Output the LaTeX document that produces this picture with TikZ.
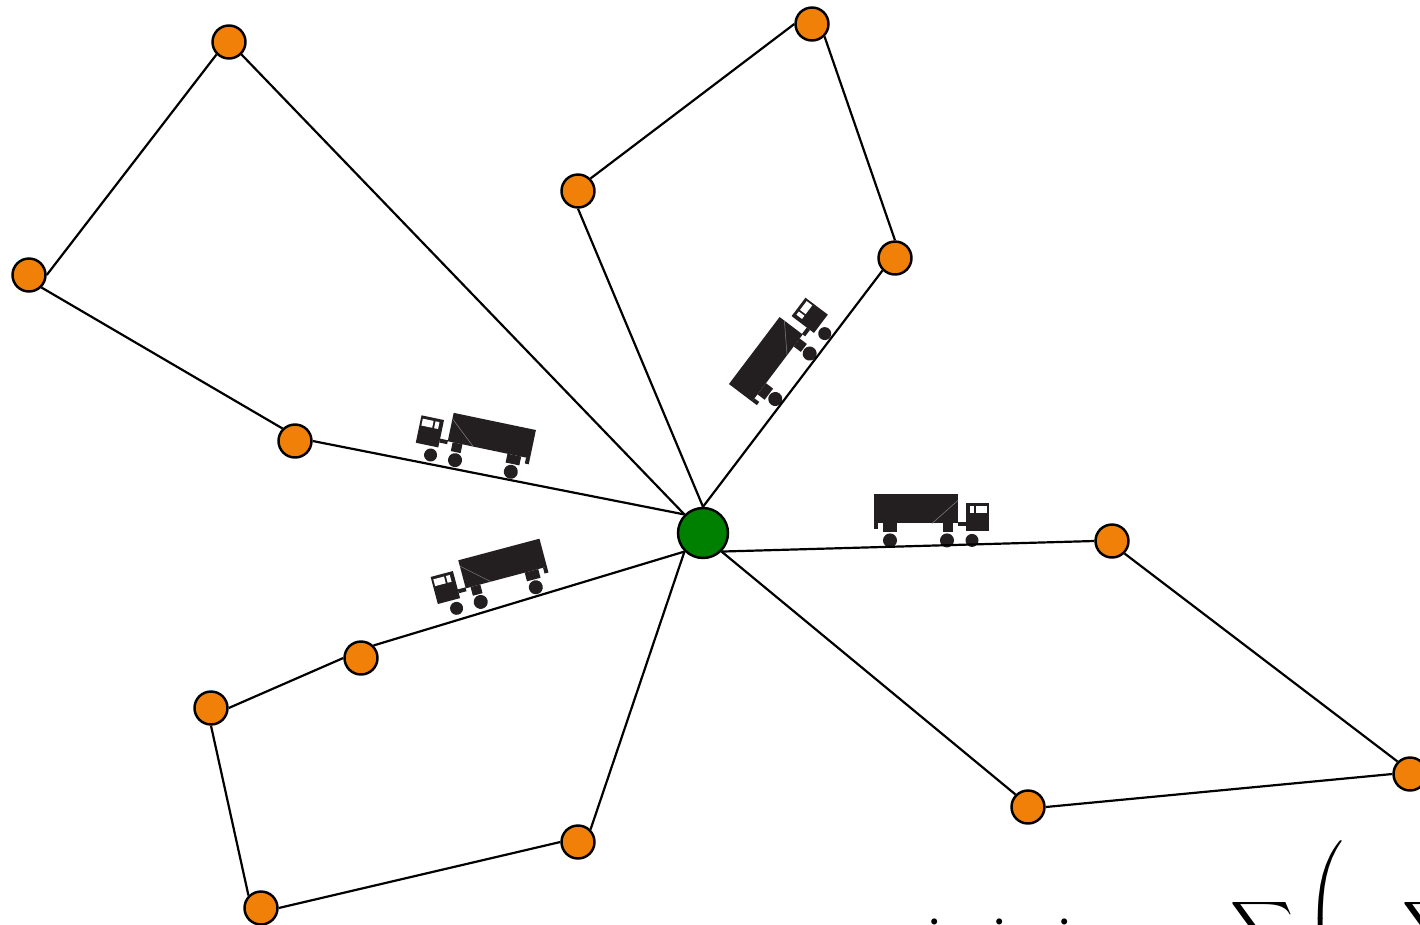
\documentclass[tikz,border=0pt]{standalone}
\usepackage{amsmath}
\usepackage{xcolor}
\definecolor{stopcol}{HTML}{F08008}
\definecolor{depotcol}{HTML}{008000}
\definecolor{truckcol}{HTML}{231F20}
\tikzset{
  stopnode/.style={circle,draw=black,line width=1.4pt,fill=stopcol,minimum size=0.66cm,inner sep=0pt},
  depotnode/.style={circle,draw=black,line width=1.4pt,fill=depotcol,minimum size=1cm,inner sep=0pt},
  routeline/.style={draw=black,line width=1.25pt},
}
% truck: #1 position, #2 angle, #3 1 or -1 for the way it faces
\newcommand{\truck}[3]{
  \begin{scope}[shift={#1},rotate=#2,xscale=#3]
    \fill[truckcol] (-57,-46) rectangle (27,-17);
    \fill[truckcol] (-48,-17) rectangle (-34,-8);
    \fill[truckcol] (12,-17) rectangle (22,-8);
    \fill[truckcol] (-57,-17) rectangle (-53,-11);
    \fill[truckcol] (27,-18) rectangle (35,-14);
    \fill[truckcol] (35,-37) rectangle (58,-9);
    \fill[white] (39,-34) rectangle (43,-27);
    \fill[white] (45,-34) rectangle (56,-27);
    \draw[gray,line width=0.3pt] (1,-17) -- (27,-40);
    \fill[truckcol] (-41,0) circle (7);
    \fill[truckcol] (16,0) circle (7);
    \fill[truckcol] (41,0) circle (6.5);
  \end{scope}
}
\begin{document}
\begin{tikzpicture}[x=0.02cm,y=-0.02cm]
  \useasboundingbox (0,0) rectangle (1420,924);
  % trucks
  \truck{(931,540.4)}{0}{1}
  \truck{(470.7,463.4)}{-11.8}{-1}
  \truck{(496.2,597.8)}{14.9}{-1}
  \truck{(800,366.3)}{52.9}{1}
  % customers
  \node[depotnode] (depot) at (703,533) {};
  \node[stopnode] (a1) at (229,42) {};
  \node[stopnode] (a2) at (29,275) {};
  \node[stopnode] (a3) at (295,441) {};
  \node[stopnode] (b1) at (578,191) {};
  \node[stopnode] (b2) at (812,24) {};
  \node[stopnode] (b3) at (895,258) {};
  \node[stopnode] (c1) at (1112,541) {};
  \node[stopnode] (c2) at (1410,774) {};
  \node[stopnode] (c3) at (1028,807) {};
  \node[stopnode] (d1) at (361,658) {};
  \node[stopnode] (d2) at (211,708) {};
  \node[stopnode] (d3) at (261,908) {};
  \node[stopnode] (d4) at (578,842) {};
  % routes
  \draw[routeline] (depot.135) -- (a1.315);
  \draw[routeline] (a1.225) -- (a2.0);
  \draw[routeline] (a2.315) -- (a3.135);
  \draw[routeline] (a3.0) -- (depot.135);
  \draw[routeline] (depot.90) -- (b1.270);
  \draw[routeline] (b1.45) -- (b2.180);
  \draw[routeline] (b2.315) -- (b3.90);
  \draw[routeline] (b3.225) -- (depot.90);
  \draw[routeline] (depot.315) -- (c1.180);
  \draw[routeline] (c1.315) -- (c2.135);
  \draw[routeline] (c2.180) -- (c3.0);
  \draw[routeline] (c3.135) -- (depot.315);
  \draw[routeline] (depot.225) -- (d1.45);
  \draw[routeline] (d1.180) -- (d2.0);
  \draw[routeline] (d2.270) -- (d3.135);
  \draw[routeline] (d3.0) -- (d4.180);
  \draw[routeline] (d4.45) -- (depot.225);
  % objective, cut off by the page
  \node[anchor=base,font=\fontsize{42}{46}\selectfont] (dots) at (1000,966) {i\hspace{26.4pt}i\hspace{26.4pt}i};
  \node[anchor=north west,inner sep=0pt,font=\fontsize{27}{30}\selectfont] (sumone) at (1230,898) {$\displaystyle\sum$};
  \node[anchor=north west,inner sep=0pt,font=\fontsize{27}{30}\selectfont] (paren) at (1305,837) {$\left(\rule{0pt}{90pt}\right.$};
  \node[anchor=north west,inner sep=0pt,font=\fontsize{27}{30}\selectfont] (sumtwo) at (1402,898) {$\displaystyle\sum$};
\end{tikzpicture}
\end{document}
